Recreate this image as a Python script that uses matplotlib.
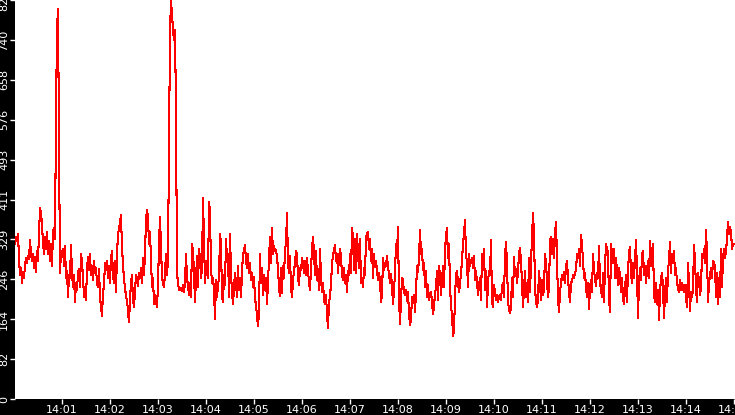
import numpy as np
import pandas as pd
import matplotlib
matplotlib.use("Agg")
import matplotlib.pyplot as plt
import matplotlib.dates as mdates

# sampled readings, one every 1.25 s starting 14:00:01
values = [
    320, 335, 325, 340, 290, 255, 270, 240, 262, 250,
    275, 290, 280, 295, 288, 329, 300, 285, 300, 270,
    292, 262, 305, 285, 340, 395, 382, 360, 320, 300,
    335, 310, 345, 300, 325, 285, 320, 275, 345, 352,
    330, 589, 762, 805, 531, 260, 305, 300, 310, 275,
    315, 250, 265, 210, 255, 250, 318, 260, 230, 255,
    200, 240, 225, 260, 268, 230, 300, 285, 250, 210,
    232, 205, 268, 292, 265, 300, 255, 275, 245, 285,
    260, 270, 240, 230, 268, 210, 192, 172, 218, 235,
    280, 265, 285, 250, 275, 240, 290, 305, 255, 240,
    285, 220, 300, 340, 350, 365, 380, 310, 280, 245,
    232, 210, 205, 180, 158, 205, 240, 255, 205, 190,
    222, 255, 250, 232, 260,
    250, 270, 240, 290, 255, 300, 370, 390, 375, 320,
    345, 285, 230, 250, 195, 215, 200, 190, 235, 320,
    376, 310, 250, 240, 230, 260, 300, 255, 290, 515,
    756, 823, 791, 762, 740, 762, 593, 260, 240, 225,
    230, 228, 222, 235, 220, 240, 300, 250, 232, 215,
    240, 210, 320, 305, 260, 200, 245, 295, 230, 310,
    290, 250, 270, 414, 330, 240, 285, 260, 250, 407,
    385, 270, 240, 250, 225, 164, 245, 210, 235, 250,
    340, 320, 210, 200, 255, 235, 330, 290, 300, 210,
    340, 260, 220, 195, 230, 260, 240, 210, 275, 225,
    250, 210, 260, 300, 305, 318, 285, 270, 300, 260,
    280, 245, 260, 230, 252, 205, 195, 170, 150, 180,
    300, 240, 270, 215, 255, 225, 250, 195, 240, 290,
    335, 280, 352, 300, 315, 305, 308, 292, 270, 230,
    212, 270, 218, 275, 250, 310, 320, 383, 280, 260,
    295, 230, 210, 245, 265, 280, 305, 300, 250, 235,
    270, 265, 290, 280, 260, 285, 255, 290, 265, 240,
    225, 270, 310, 335, 300, 255, 305, 245, 260, 225,
    310, 250, 220, 240, 205, 195, 215, 175, 146, 200,
    210, 240, 275, 300, 305, 318, 285, 300, 260, 290,
    310, 295, 255, 245, 270, 240, 255, 220, 265, 255,
    300, 260, 352, 335, 265, 330, 260, 340, 300, 270,
    330, 240, 250, 230, 270, 255, 335, 340, 345, 310,
    330, 285, 310, 250, 300, 272, 285, 265, 245, 260,
    245, 200, 215, 290, 265, 280, 275, 295, 270, 260,
    240, 258, 232, 195, 225, 260, 320, 300, 355, 210,
    155, 205, 250, 245, 220, 215, 225, 202, 220, 175,
    152, 165, 210, 200, 215, 180, 220, 275, 262, 290,
    348, 300, 310, 265, 280, 230, 265, 210, 235, 205,
    215, 220, 200, 175, 190, 218, 230, 265, 205, 275,
    255, 215, 245, 275, 230, 305, 340, 352, 290, 320,
    235, 190, 175, 129, 140, 210, 255, 265, 240, 220,
    238, 260, 285, 320, 340, 369, 300, 280, 230, 300,
    275, 285, 290, 270, 295, 245, 265, 240, 215, 232,
    250, 205, 300, 270, 310, 225, 265, 190, 240, 265,
    255, 328, 200, 190, 235, 220, 205, 215, 200, 210,
    215, 205, 230, 240, 210, 297, 324, 280, 200, 185,
    177, 190, 250, 210, 292, 255, 268, 240, 262, 300,
    311, 285, 240, 190, 225, 265, 210, 240, 200, 290,
    220, 280, 335, 383, 340, 230, 200, 190, 205, 265,
    235, 205, 245, 215, 225, 300, 280, 245, 210, 230,
    325, 335, 300, 330, 290, 340, 366, 290, 205, 180,
    220, 240, 255, 245, 262, 240, 275, 285, 250, 220,
    200, 240, 242, 255, 250, 262, 265, 300, 290, 310,
    275, 338, 320, 285, 250, 260, 230, 210, 240, 185,
    230, 245, 220, 300, 265, 250, 232, 260, 250, 315,
    240, 225, 210, 260, 200, 275, 320, 310, 300, 205,
    180, 320, 300, 280, 310, 250, 290, 265, 235, 270,
    255, 220, 250, 210, 195, 230, 255, 200, 265, 300,
    314, 260, 240, 280, 250, 290, 328, 260, 167, 240,
    270, 245, 300, 305, 255, 275, 240, 265, 285, 250,
    325, 275, 305, 320, 215, 200, 240, 195, 225, 163,
    220, 250, 260, 230, 167, 215, 250, 200, 265, 285,
    324, 260, 300, 290, 305, 255, 270, 240, 230, 220,
    245, 225, 240, 230, 220, 235, 210, 190, 280, 240,
    182, 220, 210, 225, 318, 285, 230, 200, 260, 245,
    215, 230, 300, 290, 310, 280, 349, 300, 200, 240,
    255, 270, 250, 285, 280, 275, 210, 260, 195, 250,
    210, 310, 230, 290, 310, 290, 305, 330, 366, 340,
    355, 345, 310, 318, 320,
]

start = pd.Timestamp("2020-01-01 14:00:01")
end = pd.Timestamp("2020-01-01 14:15:01")
times = pd.date_range(start, periods=len(values), freq="1250ms")

y_max = 823
y_ticks = [y_max / 10 * i for i in range(11)]
y_labels = [str(int(t)) for t in y_ticks]

fig = plt.figure(figsize=(7.35, 4.15), dpi=100, facecolor="black")
ax = fig.add_axes([15 / 735, 16 / 415, 720 / 735, 399 / 415])
ax.set_facecolor("white")

ax.plot(times, values, color="#ff0000", linewidth=0.75, antialiased=False)

ax.set_xlim(start, end)
ax.set_ylim(0, y_max)

ax.xaxis.set_major_locator(mdates.MinuteLocator())
ax.xaxis.set_major_formatter(mdates.DateFormatter("%H:%M"))
ax.set_yticks(y_ticks)
ax.set_yticklabels(y_labels, rotation=90, va="center")

ax.tick_params(axis="x", colors="white", labelsize=8, length=3.6, width=1, pad=1)
ax.tick_params(axis="y", colors="white", labelsize=8, length=3.6, width=1, pad=0.5)

for s in ax.spines.values():
    s.set_visible(False)

fig.savefig("out.png", dpi=100, facecolor="black")
